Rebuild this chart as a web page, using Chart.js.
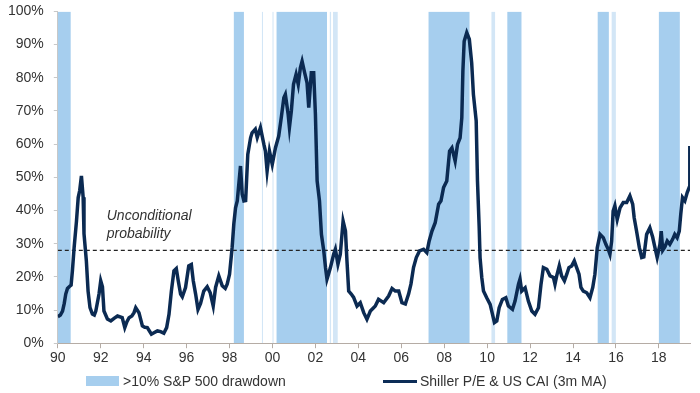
<!DOCTYPE html>
<html>
<head>
<meta charset="utf-8">
<script src="https://cdn.jsdelivr.net/npm/chart.js@4.4.1/dist/chart.umd.min.js"></script>
<style>
  html, body { margin: 0; padding: 0; background: #fff; }
  #wrap { position: relative; width: 700px; height: 393px; }
  #legend { position: absolute; left: 0; top: 371px; width: 700px; height: 20px;
            font: 14px "Liberation Sans", Arial, sans-serif; color: #333; }
  .item { position: absolute; top: 0; line-height: 20px; white-space: nowrap; }
  .swatch-box { display: inline-block; width: 33px; height: 10px; background: #a6ceee;
                vertical-align: middle; margin-right: 4px; position: relative; top: -1px; }
  .swatch-line { display: inline-block; width: 34px; height: 3px; background: #0c2d57;
                 vertical-align: middle; margin-right: 3px; position: relative; top: -1px; }
</style>
</head>
<body>
<div id="wrap">
  <canvas id="chart" width="700" height="393"></canvas>
  <div id="legend">
    <div class="item" style="left:86px"><span class="swatch-box"></span>&gt;10% S&amp;P 500 drawdown</div>
    <div class="item" style="left:383px"><span class="swatch-line"></span>Shiller P/E &amp; US CAI (3m MA)</div>
  </div>
</div>
<script>
// Series: probability of a >10% drawdown (Shiller P/E & US CAI, 3m MA)
const years = [
  1990.00, 1990.12, 1990.22, 1990.30, 1990.37, 1990.45, 1990.53, 1990.62, 1990.68, 1990.76,
  1990.87, 1990.95, 1991.02, 1991.10, 1991.18, 1991.22, 1991.33, 1991.41, 1991.50, 1991.61,
  1991.70, 1991.77, 1991.92, 1992.00, 1992.08, 1992.15, 1992.31, 1992.47, 1992.62, 1992.78,
  1993.00, 1993.12, 1993.22, 1993.32, 1993.45, 1993.55, 1993.63, 1993.78, 1993.94, 1994.05,
  1994.17, 1994.36, 1994.50, 1994.64, 1994.79, 1994.94, 1995.07, 1995.18, 1995.29, 1995.41,
  1995.52, 1995.61, 1995.72, 1995.80, 1995.95, 1996.10, 1996.22, 1996.31, 1996.42, 1996.53,
  1996.65, 1996.80, 1996.96, 1997.10, 1997.24, 1997.35, 1997.50, 1997.66, 1997.80, 1997.89,
  1998.00, 1998.12, 1998.20, 1998.28, 1998.36, 1998.51, 1998.59, 1998.67, 1998.75, 1998.85,
  1998.98, 1999.05, 1999.20, 1999.29, 1999.44, 1999.60, 1999.67, 1999.75, 1999.86, 1999.99,
  2000.14, 2000.29, 2000.42, 2000.53, 2000.60, 2000.73, 2000.79, 2000.88, 2000.98, 2001.10,
  2001.20, 2001.30, 2001.38, 2001.50, 2001.61, 2001.69, 2001.81, 2001.92, 2002.00, 2002.08,
  2002.19, 2002.28, 2002.39, 2002.47, 2002.54, 2002.62, 2002.70, 2002.85, 2002.93, 2003.05,
  2003.16, 2003.29, 2003.40, 2003.47, 2003.55, 2003.67, 2003.78, 2003.94, 2004.09, 2004.25,
  2004.40, 2004.56, 2004.71, 2004.79, 2004.94, 2005.18, 2005.41, 2005.57, 2005.72, 2005.88,
  2006.03, 2006.19, 2006.34, 2006.45, 2006.57, 2006.70, 2006.85, 2007.04, 2007.19, 2007.30,
  2007.43, 2007.58, 2007.74, 2007.85, 2007.97, 2008.12, 2008.25, 2008.36, 2008.51, 2008.62,
  2008.74, 2008.82, 2008.87, 2008.93, 2009.05, 2009.17, 2009.28, 2009.36, 2009.49, 2009.55,
  2009.63, 2009.67, 2009.75, 2009.83, 2009.98, 2010.14, 2010.25, 2010.34, 2010.45, 2010.56,
  2010.71, 2010.87, 2010.99, 2011.18, 2011.30, 2011.46, 2011.53, 2011.61, 2011.77, 2011.92,
  2012.08, 2012.23, 2012.39, 2012.51, 2012.62, 2012.78, 2012.93, 2013.09, 2013.16, 2013.24,
  2013.36, 2013.47, 2013.60, 2013.71, 2013.81, 2013.94, 2014.06, 2014.17, 2014.28, 2014.37,
  2014.48, 2014.64, 2014.79, 2014.92, 2015.02, 2015.13, 2015.26, 2015.41, 2015.53, 2015.64,
  2015.72, 2015.80, 2015.87, 2015.95, 2016.06, 2016.19, 2016.34, 2016.50, 2016.65, 2016.78,
  2016.85, 2016.96, 2017.09, 2017.20, 2017.30, 2017.43, 2017.58, 2017.71, 2017.81, 2017.92,
  2018.05, 2018.11, 2018.18, 2018.28, 2018.39, 2018.51, 2018.64, 2018.74, 2018.85, 2018.95,
  2019.02, 2019.10, 2019.21, 2019.32, 2019.41, 2019.44
];
const shillerProb = [
  8.0, 8.5, 9.7, 12.0, 14.8, 16.5, 17.0, 17.5, 21.8, 28.8,
  36.8, 43.9, 46.0, 50.4, 44.0, 33.0, 24.8, 15.7, 10.7, 8.8,
  8.5, 9.7, 14.8, 18.8, 17.0, 9.7, 7.3, 6.7, 7.5, 8.2,
  7.7, 4.7, 6.5, 7.7, 8.2, 9.2, 10.7, 9.2, 5.2, 4.8,
  4.7, 2.7, 3.2, 3.7, 3.5, 3.0, 4.7, 8.7, 15.7, 21.8,
  22.5, 18.8, 14.8, 14.0, 16.8, 23.3, 23.7, 18.8, 14.8, 10.2,
  12.0, 15.7, 17.0, 15.2, 11.2, 16.8, 20.3, 17.3, 16.5, 17.8,
  20.8, 28.8, 36.0, 40.8, 42.9, 53.4, 44.9, 42.9, 43.0, 56.9,
  61.9, 63.4, 64.5, 62.0, 65.0, 59.9, 57.9, 51.9, 57.9, 53.9,
  58.9, 62.4, 68.5, 74.0, 75.0, 69.0, 65.0, 70.0, 78.0, 81.0,
  78.0, 83.0, 85.0, 81.5, 78.5, 71.0, 81.5, 81.5, 69.0, 48.9,
  42.9, 32.8, 27.8, 22.8, 19.3, 21.0, 22.8, 26.8, 28.3, 23.8,
  26.8, 36.8, 33.8, 24.8, 15.7, 14.8, 13.8, 11.2, 12.2, 9.2,
  7.2, 9.7, 10.7, 11.2, 13.2, 12.2, 14.2, 16.5, 15.7, 15.7,
  12.2, 11.8, 14.8, 17.8, 22.8, 25.8, 27.8, 28.3, 27.3, 30.8,
  33.8, 36.3, 41.9, 42.9, 46.9, 48.9, 57.9, 58.9, 54.9, 59.9,
  61.9, 68.0, 82.0, 91.0, 93.6, 91.6, 84.5, 75.0, 67.0, 48.9,
  34.8, 25.8, 19.8, 15.7, 13.7, 11.7, 8.7, 6.2, 6.7, 10.7,
  13.2, 13.7, 11.2, 10.2, 12.7, 17.8, 19.3, 15.7, 16.7, 12.7,
  9.7, 8.7, 10.7, 17.8, 22.8, 22.3, 20.3, 19.8, 17.8, 20.3,
  23.3, 20.3, 18.8, 20.8, 22.8, 23.3, 24.8, 22.8, 20.8, 16.8,
  15.7, 15.2, 13.7, 16.8, 20.8, 28.8, 32.8, 31.8, 29.8, 28.3,
  26.8, 30.8, 39.8, 41.4, 37.3, 40.8, 42.4, 42.4, 44.4, 41.9,
  37.8, 33.8, 28.8, 25.8, 26.0, 32.8, 34.8, 32.0, 29.0, 25.8,
  29.8, 33.8, 28.0, 29.0, 30.8, 29.8, 31.3, 32.8, 31.8, 33.8,
  38.9, 43.9, 42.9, 45.4, 46.9, 59.4
];

// >10% S&P 500 drawdown periods (start, end in fractional years)
const drawdownStart = [1990.00, 1998.20, 2000.19, 2007.27, 2010.94, 2015.15, 2018.00];
const drawdownEnd   = [1990.60, 1998.67, 2002.54, 2009.18, 2011.60, 2015.67, 2018.98];
// short one-month episodes, drawn lighter
const shortStart = [1999.50, 2000.00, 2002.67, 2002.82, 2010.20, 2015.80];
const shortEnd   = [1999.56, 2000.05, 2002.73, 2003.04, 2010.37, 2016.00];

const unconditional = 28;
const xMin = 1990, xMax = 2019.45;
const tickFont = { family: '"Liberation Sans", Arial, sans-serif', size: 14 };

function stepPoints(starts, ends) {
    const pts = [];
    starts.forEach((s, i) => {
        pts.push({ x: s, y: 100 });
        pts.push({ x: ends[i], y: 0 });
    });
    return pts;
}

// label "Unconditional probability" placed through the scales
const notePlugin = {
    id: 'note',
    afterDatasetsDraw(chart) {
        const { ctx, scales } = chart;
        ctx.save();
        ctx.font = 'italic 14px "Liberation Sans", Arial, sans-serif';
        ctx.fillStyle = '#333';
        ctx.textBaseline = 'middle';
        const x = scales.x.getPixelForValue(1992.28);
        ctx.fillText('Unconditional', x, scales.y.getPixelForValue(38.3));
        ctx.fillText('probability', x, scales.y.getPixelForValue(32.9));
        ctx.restore();
    }
};

const ctx = document.getElementById('chart').getContext('2d');
new Chart(ctx, {
    type: 'line',
    data: {
        datasets: [
            {
                label: 'Shiller P/E & US CAI (3m MA)',
                data: years.map((y, i) => ({ x: y, y: shillerProb[i] })),
                borderColor: '#0b2a52',
                borderWidth: 3.5,
                pointRadius: 0,
                tension: 0,
                fill: false,
                order: 0
            },
            {
                label: 'Unconditional',
                data: [{ x: xMin, y: unconditional }, { x: xMax, y: unconditional }],
                borderColor: '#222',
                borderWidth: 1.2,
                borderDash: [4, 3],
                pointRadius: 0,
                fill: false,
                order: 1
            },
            {
                label: '>10% S&P 500 drawdown',
                data: stepPoints(drawdownStart, drawdownEnd),
                stepped: 'before',
                borderWidth: 0,
                borderColor: 'rgba(0,0,0,0)',
                backgroundColor: '#a6ceee',
                pointRadius: 0,
                fill: 'origin',
                order: 3
            },
            {
                label: 'short drawdown',
                data: stepPoints(shortStart, shortEnd),
                stepped: 'before',
                borderWidth: 0,
                borderColor: 'rgba(0,0,0,0)',
                backgroundColor: '#d3e6f6',
                pointRadius: 0,
                fill: 'origin',
                order: 2
            }
        ]
    },
    options: {
        responsive: false,
        animation: false,
        layout: { padding: { left: 5, right: 10, top: 4, bottom: 24 } },
        plugins: {
            legend: { display: false },
            tooltip: { enabled: false }
        },
        scales: {
            x: {
                type: 'linear',
                min: xMin,
                max: xMax,
                border: { display: true, color: '#b5aca5' },
                grid: { drawOnChartArea: false, drawTicks: true, tickLength: 5, color: '#b5aca5' },
                ticks: {
                    stepSize: 2,
                    includeBounds: false,
                    autoSkip: false,
                    maxRotation: 0,
                    color: '#333',
                    font: tickFont,
                    padding: 2,
                    callback: v => String(v % 100).padStart(2, '0')
                }
            },
            y: {
                min: 0,
                max: 100,
                border: { display: true, color: '#c8c8c8' },
                // long tick slot, only its last 4px (next to the axis) is painted
                grid: { drawOnChartArea: false, drawTicks: true, tickLength: 11, color: '#c8c8c8',
                        tickBorderDash: [0, 7, 4, 100] },
                ticks: {
                    stepSize: 10,
                    color: '#333',
                    font: tickFont,
                    padding: 3,
                    callback: v => v + '%'
                }
            }
        }
    },
    plugins: [notePlugin]
});
</script>
</body>
</html>
